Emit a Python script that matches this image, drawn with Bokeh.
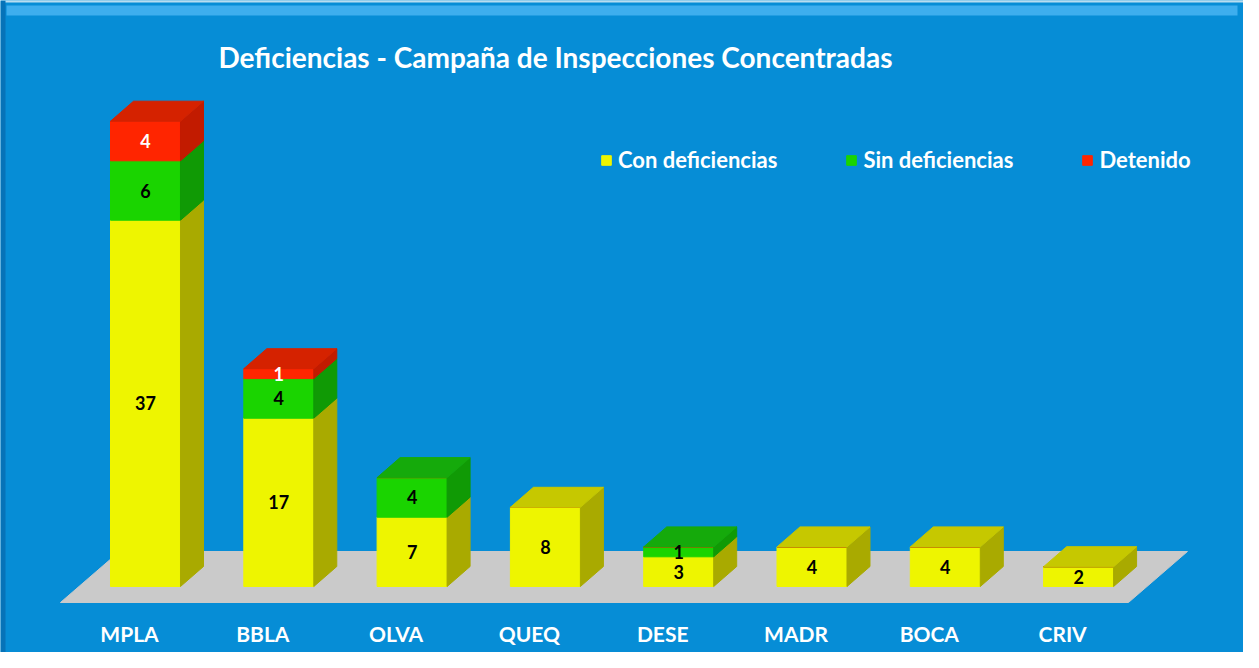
import numpy as np
from bokeh.plotting import figure
from bokeh.models import Range1d, Legend, LegendItem, Label, BoxAnnotation, ColumnDataSource
from bokeh.core.properties import value
from bokeh.embed import file_html
from bokeh.resources import INLINE

# ---------------- data ----------------
categories = ["MPLA", "BBLA", "OLVA", "QUEQ", "DESE", "MADR", "BOCA", "CRIV"]
series_names = ["Con deficiencias", "Sin deficiencias", "Detenido"]
con_deficiencias = [37, 17, 7, 8, 3, 4, 4, 2]
sin_deficiencias = [6, 4, 4, 0, 1, 0, 0, 0]
detenido = [4, 1, 0, 0, 0, 0, 0, 0]
title_text = "Deficiencias - Campaña de Inspecciones Concentradas"

# ---------------- style ----------------
W, H = 1243, 652
PX_X = 133.3          # pixels per category
PX_Y = 9.9            # pixels per unit
BAR_W = 0.525
DX = 23 / PX_X        # depth offset (x)
DY = 20 / PX_Y        # depth offset (y)
BLUE = "#068DD6"
FRONT = ["#EEF500", "#1AD400", "#FF2500"]
SIDE = ["#A9AA00", "#109A05", "#C21B00"]
TOP = ["#C6C800", "#15AA0B", "#D52200"]
LABEL_COL = ["black", "black", "white"]
FONT = "Lato"

x_start = -145 / PX_X
y_start = -66 / PX_Y

p = figure(width=W, height=H, output_backend="svg", toolbar_location=None,
           x_range=Range1d(x_start, x_start + W / PX_X),
           y_range=Range1d(y_start, y_start + H / PX_Y),
           x_axis_location=None, y_axis_location=None, min_border=0,
           background_fill_color=BLUE, border_fill_color=BLUE)
p.outline_line_color = None
p.grid.visible = False

# frame decorations
def band(l, r, b, t, col):
    p.add_layout(BoxAnnotation(top=t, bottom=b, left=l, right=r,
                               top_units="screen", bottom_units="screen",
                               left_units="screen", right_units="screen",
                               fill_color=col, fill_alpha=1, line_alpha=0))

band(0, W, H - 2, H, "#B8DDF0")
band(6, W - 6, H - 15, H - 5, "#3DAEEE")
band(0, 5, 0, H, "#0673B8")

n = len(categories)
xs_idx = np.arange(n)

# floor (grey parallelogram)
fl_front = -16 / PX_Y
fl_dx = 59 / PX_X
fl_dy = 51 / PX_Y
fl_left = -0.638
fl_right = (n - 1) + 0.374
p.patch([fl_left, fl_right, fl_right + fl_dx, fl_left + fl_dx],
        [fl_front, fl_front, fl_front + fl_dy, fl_front + fl_dy],
        fill_color="#CACACA", line_color="#CACACA")

vals = [con_deficiencias, sin_deficiencias, detenido]
keys = ["con", "sin", "det"]
src = ColumnDataSource(dict(x=xs_idx, con=con_deficiencias, sin=sin_deficiencias, det=detenido))
front_rs = p.vbar_stack(keys, x="x", width=BAR_W, color=FRONT, source=src)

# side faces & top faces
cum = np.zeros(n)
side_xs = [[] for _ in keys]
side_ys = [[] for _ in keys]
lab_x, lab_y, lab_t, lab_c = [], [], [], []
top_series = [0] * n
for s, v in enumerate(vals):
    for i in range(n):
        if v[i] > 0:
            b = cum[i]
            t = b + v[i]
            xr = i + BAR_W / 2
            side_xs[s].append([xr, xr + DX, xr + DX, xr])
            side_ys[s].append([b, b + DY, t + DY, t])
            lab_x.append(i)
            lab_y.append(b + v[i] / 2)
            lab_t.append(str(v[i]))
            lab_c.append(LABEL_COL[s])
            top_series[i] = s
    cum = cum + np.array(v)

for s in range(len(keys)):
    if side_xs[s]:
        p.patches(side_xs[s], side_ys[s], fill_color=SIDE[s], line_color=SIDE[s])

top_xs, top_ys, top_cols = [], [], []
for i in range(n):
    T = cum[i]
    xl, xr = i - BAR_W / 2, i + BAR_W / 2
    top_xs.append([xl, xl + DX, xr + DX, xr])
    top_ys.append([T, T + DY, T + DY, T])
    top_cols.append(TOP[top_series[i]])
p.patches(top_xs, top_ys, fill_color=top_cols, line_color=top_cols)

# value labels
p.text(x=lab_x, y=lab_y, text=lab_t, text_color=lab_c,
       text_font=value(FONT), text_font_style="bold", text_font_size="18px",
       text_align="center", text_baseline="middle")

# category labels
p.text(x=list(xs_idx), y=[0] * n, text=categories, x_offset=-16, y_offset=47,
       text_color="white", text_font=value(FONT), text_font_style="bold",
       text_font_size="21px", text_align="center", text_baseline="middle")

# title
p.add_layout(Label(x=218, y=H - 56, x_units="screen", y_units="screen", text=title_text,
                   text_color="white", text_font=FONT, text_font_style="bold",
                   text_font_size="28px", text_baseline="middle"))

# legend
legend = Legend(items=[LegendItem(label=nm, renderers=[r]) for nm, r in zip(series_names, front_rs)],
                orientation="horizontal", location=(600, 479),
                glyph_width=12, glyph_height=12, label_height=14, label_standoff=6,
                spacing=68, padding=0, margin=0,
                border_line_alpha=0, background_fill_alpha=0,
                label_text_color="white", label_text_font=FONT,
                label_text_font_style="bold", label_text_font_size="22px")
p.add_layout(legend)

open("out.html", "w").write(file_html(p, INLINE))
